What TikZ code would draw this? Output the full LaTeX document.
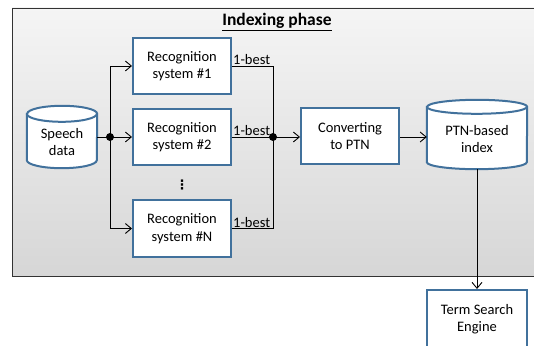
\documentclass[tikz,border=0pt]{standalone}
\usepackage{fontspec}
\setmainfont{Carlito}
\newfontfamily\dvfont{DejaVu Sans}
\usetikzlibrary{arrows.meta,calc}
\definecolor{boxblue}{HTML}{41719C}
\begin{document}
\begin{tikzpicture}[x=1pt,y=1pt,
  txt/.style={font=\fontsize{14.5}{17.5}\selectfont, align=center, inner sep=0pt},
  procbox/.style={draw=boxblue, line width=2pt, fill=white, minimum width=98pt, minimum height=56pt, txt},
  cylbox/.style={inner sep=0pt, draw=none},
  cylline/.style={draw=boxblue, line width=2pt, fill=white},
  conn/.style={draw=black, line width=0.9pt},
  arr/.style={conn, -{Straight Barb[length=6pt,width=10pt]}},
  dot/.style={circle, fill=black, inner sep=0pt, minimum size=8pt},
  lbl/.style={font=\fontsize{14.5}{16}\selectfont, inner sep=1pt, anchor=south west}
]
\useasboundingbox (0,0) rectangle (534,345);
\begin{scope}
\clip (0,0) rectangle (534,345);
\shade[top color=gray!8, bottom color=gray!32] (12,69) rectangle (540,337);
\draw[line width=0.9pt, draw=black!80] (540,337) -- (12,337) -- (12,69) -- (540,69);
\end{scope}

\node[font=\fontsize{17.5}{19}\selectfont\bfseries, inner sep=0pt] (title) at (277,323) {\underline{Indexing phase}};

% nodes
\node[cylbox, minimum width=70pt, minimum height=62pt] (sd) at (62,208) {};
\node[procbox] (r1) at (182,279) {Recognition\\system \#1};
\node[procbox] (r2) at (182,208) {Recognition\\system \#2};
\node[procbox] (rn) at (182,116.5) {Recognition\\system \#N};
\node[font=\dvfont\bfseries\fontsize{13}{15}\selectfont, inner sep=0pt] (vd) at (182,160) {⋮};
\node[procbox] (conv) at (350,209) {Converting\\to PTN};
\node[cylbox, minimum width=100pt, minimum height=69pt] (ptn) at (477,210.5) {};
\node[procbox, minimum width=100pt, minimum height=58pt] (tse) at (477,26) {Term Search\\Engine};

\newcommand\cylinderdraw[3]{%
  \path[cylline] ($(#1.north west)+(0,-#3)$) -- ($(#1.south west)+(0,#3)$)
    arc[start angle=180, end angle=360, x radius=#2, y radius=#3]
    -- ($(#1.north east)+(0,-#3)$)
    arc[start angle=0, end angle=180, x radius=#2, y radius=#3] -- cycle;
  \draw[draw=boxblue, line width=2pt] ($(#1.north west)+(0,-#3)$)
    arc[start angle=180, end angle=360, x radius=#2, y radius=#3];
}
\cylinderdraw{sd}{35}{8}
\cylinderdraw{ptn}{50}{7}
\node[txt] (sdt) at ([yshift=-5pt]sd.center) {Speech\\data};
\node[txt] (ptnt) at ([yshift=-4.5pt]ptn.center) {PTN-based\\index};

% junctions
\coordinate (lx) at (110,0);
\coordinate (rx) at (273,0);
\node[dot] (jl) at (lx |- sd.center) {};
\node[dot] (jr) at (rx |- r2.east) {};

\draw[conn] (sd.east) -- (jl.center);
\draw[arr] (jl.center) -- (r2.west);
\draw[arr] (jl.center) |- (r1.west);
\draw[arr] (jl.center) |- (rn.west);

\draw[conn] (r1.east) -| (jr.center);
\draw[conn] (rn.east) -| (jr.center);
\draw[conn] (r2.east) -- (jr.center);
\node[lbl] (l1) at (r1.east) {1-best};
\node[lbl] (l2) at (r2.east) {1-best};
\node[lbl] (ln) at (rn.east) {1-best};

\draw[arr] (jr.center) -- (conv.west |- jr.center);
\draw[arr] (conv.east |- jr.center) -- (ptn.west |- jr.center);
\draw[arr] (ptn.south) -- (tse.north);
\end{tikzpicture}
\end{document}
